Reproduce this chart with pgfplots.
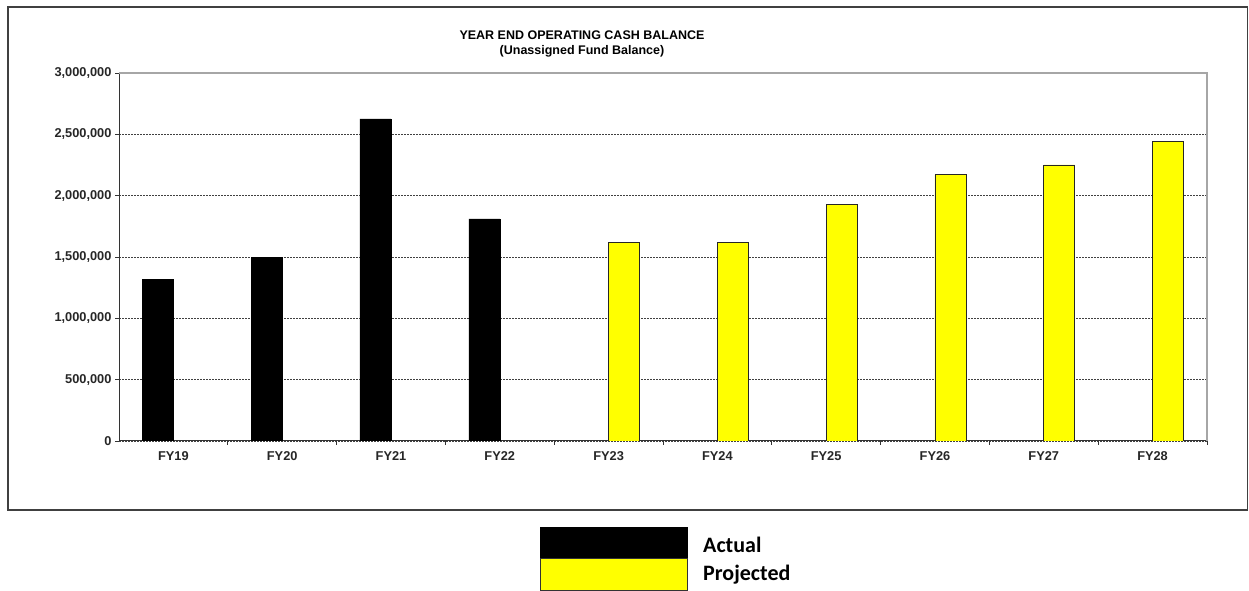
\documentclass[border=0pt]{standalone}
\usepackage{pgfplots}
\pgfplotsset{compat=1.18}
\usepackage{fontspec}
\setmainfont{Liberation Sans}
\newfontfamily\calibri{Carlito}
\definecolor{pureyellow}{RGB}{255,255,0}
\begin{document}
\begin{tikzpicture}[x=1pt,y=1pt]
\useasboundingbox (0,0) rectangle (1249,591);
\draw[black!75, line width=1.3pt] (8,81) rectangle (1247.5,584);
\node[align=center, font=\fontsize{12.5}{15}\selectfont\bfseries] at (582,547.5) {YEAR END OPERATING CASH BALANCE\\(Unassigned Fund Balance)};
\begin{axis}[
  at={(119pt,150pt)}, anchor=south west, scale only axis,
  width=1088pt, height=368pt,
  ybar, bar width=31pt,
  xmin=-0.5, xmax=9.5, ymin=0, ymax=3000000,
  axis x line*=bottom, axis y line*=left,
  axis line style={-, black!80, line width=1pt},
  xtick={0,...,9},
  xticklabels={FY19,FY20,FY21,FY22,FY23,FY24,FY25,FY26,FY27,FY28},
  major x tick style={draw=none},
  minor xtick={0.5,1.5,...,9.5},
  tick align=outside, major tick length=4pt, minor tick length=4pt,
  tick style={black!80, line width=0.8pt},
  ytick={0,500000,...,2500000},
  extra y ticks={3000000},
  extra y tick style={grid=none},
  scaled y ticks=false,
  /pgf/number format/fixed,
  /pgf/number format/1000 sep={,},
  /pgf/number format/assume math mode=true,
  tick label style={font=\fontsize{12.8}{14}\selectfont\bfseries, text=black!85},
  xticklabel style={yshift=-3pt},
  ymajorgrids,
  grid style={black!75, dash pattern=on 2pt off 1pt, line width=0.8pt},
  after end axis/.code={
    \draw[black!35, line width=1.3pt] (rel axis cs:0,1) -- (rel axis cs:1,1) -- (rel axis cs:1,0);
  },
]
\addplot[fill=black, draw=black, bar shift=-15.5pt] coordinates {
  (0,1320000) (1,1495000) (2,2625000) (3,1810000)};
\addplot[fill=pureyellow, draw=black!85, line width=0.8pt, bar shift=15.5pt] coordinates {
  (4,1617000) (5,1617000) (6,1930000) (7,2172000) (8,2250000) (9,2445000)};
\end{axis}
% legend
\fill[black] (540,32) rectangle (688,64);
\filldraw[fill=pureyellow, draw=black!80, line width=1pt] (540.5,0.5) rectangle (687.5,32);
\node[anchor=west, font=\calibri\fontsize{22}{24}\selectfont\bfseries, inner sep=0pt] at (703,46) {Actual};
\node[anchor=west, font=\calibri\fontsize{22}{24}\selectfont\bfseries, inner sep=0pt] at (703,16) {Projected};
\end{tikzpicture}
\end{document}
